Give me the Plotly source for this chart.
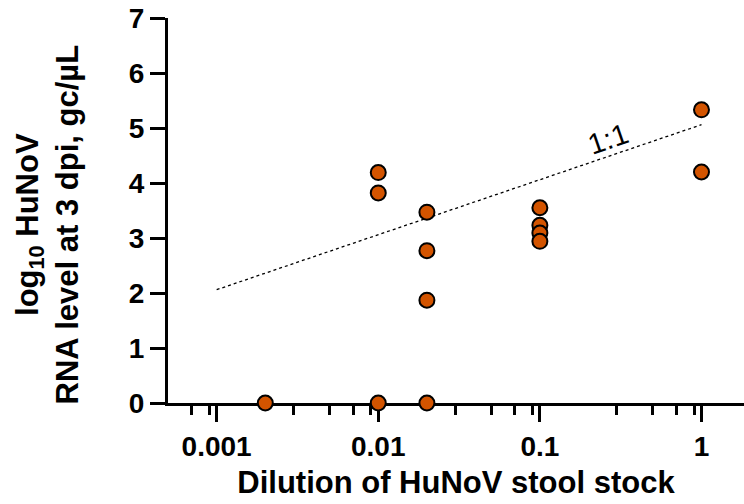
import math
import plotly.graph_objects as go

# Dilution of the stool stock and measured log10 RNA level at 3 dpi
dilution = [0.002, 0.01, 0.01, 0.01, 0.02, 0.02, 0.02, 0.02,
            0.1, 0.1, 0.1, 0.1, 1, 1]
rna_log10 = [0.0, 4.19, 3.82, 0.0, 3.47, 2.77, 1.87, 0.0,
             3.55, 3.23, 3.09, 2.94, 5.33, 4.20]

# 1:1 reference line (log-log slope of one)
ref_x = [0.001, 1]
ref_y = [2.06, 5.06]
ref_label = "1:1"
ref_label_x = 0.264
ref_label_y = 4.80

x_ticks = [0.001, 0.01, 0.1, 1]
x_ticktext = ["0.001", "0.01", "0.1", "1"]
x_minor = [0.0007, 0.0009, 0.003, 0.005, 0.007, 0.009,
           0.03, 0.05, 0.07, 0.09, 0.3, 0.5, 0.7, 0.9]
y_ticks = [0, 1, 2, 3, 4, 5, 6, 7]

FONT = "Liberation Sans, Arial, sans-serif"
ORANGE = "#D35400"

# plot area in pixels
W, H = 744, 504
M_L, M_R, M_T, M_B = 167.5, 0, 18, 100.7

fig = go.Figure()

fig.add_trace(go.Scatter(
    x=ref_x, y=ref_y, mode="lines",
    line=dict(color="black", width=1.3, dash="dot"),
    hoverinfo="skip", showlegend=False,
))

fig.add_trace(go.Scatter(
    x=dilution, y=rna_log10, mode="markers",
    marker=dict(size=15, color=ORANGE, line=dict(color="black", width=2)),
    cliponaxis=False, showlegend=False,
))

# annotation x on a log axis is given as log10 of the value
fig.add_annotation(
    x=math.log10(ref_label_x), y=ref_label_y, xref="x", yref="y",
    text=ref_label, showarrow=False, textangle=-19,
    xanchor="center", yanchor="middle",
    font=dict(family=FONT, size=29, color="black"),
)

# two-line y-axis title, centred at pixel (47, 225)
fig.add_annotation(
    x=(47 - M_L) / (W - M_L - M_R),
    y=(H - M_B - 225) / (H - M_T - M_B),
    xref="paper", yref="paper",
    xanchor="center", yanchor="middle",
    text="<b>log<sub>10</sub> HuNoV<br>RNA level at 3 dpi, gc/µL</b>",
    showarrow=False, textangle=-90,
    font=dict(family=FONT, size=31, color="black"),
)

axis_common = dict(
    showgrid=False, zeroline=False, showline=True,
    linecolor="black", linewidth=3,
    ticks="outside", tickwidth=3, tickcolor="black",
    tickfont=dict(family=FONT, size=28, color="black", weight="bold"),
    layer="below traces",
)

fig.update_layout(
    width=W, height=H,
    margin=dict(l=M_L, r=M_R, t=M_T, b=M_B),
    paper_bgcolor="white", plot_bgcolor="white",
    xaxis=dict(
        type="log", range=[-3.301, 0.263],
        tickmode="array", tickvals=x_ticks, ticktext=x_ticktext,
        ticklen=16,
        minor=dict(tickmode="array", tickvals=x_minor, ticks="outside",
                   ticklen=9, tickwidth=3, tickcolor="black"),
        title=dict(text="<b>Dilution of HuNoV stool stock</b>",
                   font=dict(family=FONT, size=31, color="black"),
                   standoff=11),
        **axis_common,
    ),
    yaxis=dict(
        range=[0, 7], tickmode="array", tickvals=y_ticks,
        ticklen=15,
        **axis_common,
    ),
)

fig.write_html("out.html")
